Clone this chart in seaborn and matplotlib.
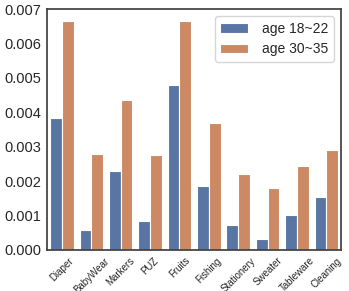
import pandas as pd
import seaborn as sns
import matplotlib.pyplot as plt

# category labels and the two age groups
categories = ['Diaper', 'BabyWear', 'Markers', 'PUZ', 'Fruits', 'Fishing',
              'Stationery', 'Sweater', 'Tableware', 'Cleaning']
age_18_22 = [0.00383, 0.00058, 0.00230, 0.00085, 0.00480, 0.00187,
             0.00072, 0.00032, 0.00102, 0.00155]
age_30_35 = [0.00665, 0.00280, 0.00435, 0.00275, 0.00665, 0.00370,
             0.00220, 0.00180, 0.00245, 0.00290]
groups = ['age 18~22', 'age 30~35']

df = pd.DataFrame({
    'category': categories * 2,
    'value': age_18_22 + age_30_35,
    'group': [groups[0]] * len(categories) + [groups[1]] * len(categories),
})

sns.set_theme(style='white')
plt.rcParams['font.family'] = ['Liberation Sans', 'DejaVu Sans']

fig, ax = plt.subplots(figsize=(3.49, 2.91), dpi=100)
sns.barplot(data=df, x='category', y='value', hue='group', ax=ax,
            palette='deep', edgecolor='white', linewidth=0.8)
ax.set_xlabel('')
ax.set_ylabel('')
ax.set_ylim(0, 0.007)
ax.set_yticks([0, 0.001, 0.002, 0.003, 0.004, 0.005, 0.006, 0.007])
ax.set_yticklabels(['0.000', '0.001', '0.002', '0.003', '0.004', '0.005', '0.006', '0.007'],
                   fontsize=10.5)
plt.xticks(rotation=45, fontsize=7)
ax.tick_params(axis='y', length=0, pad=4)
ax.tick_params(axis='x', length=0, pad=4)
ax.legend(loc='upper right', fontsize=10, handlelength=2.0, handletextpad=1.0)
for s in ax.spines.values():
    s.set_color('0.25')
plt.subplots_adjust(left=0.1355, right=0.977, top=0.969, bottom=0.141)
plt.savefig('out.png', dpi=100)
